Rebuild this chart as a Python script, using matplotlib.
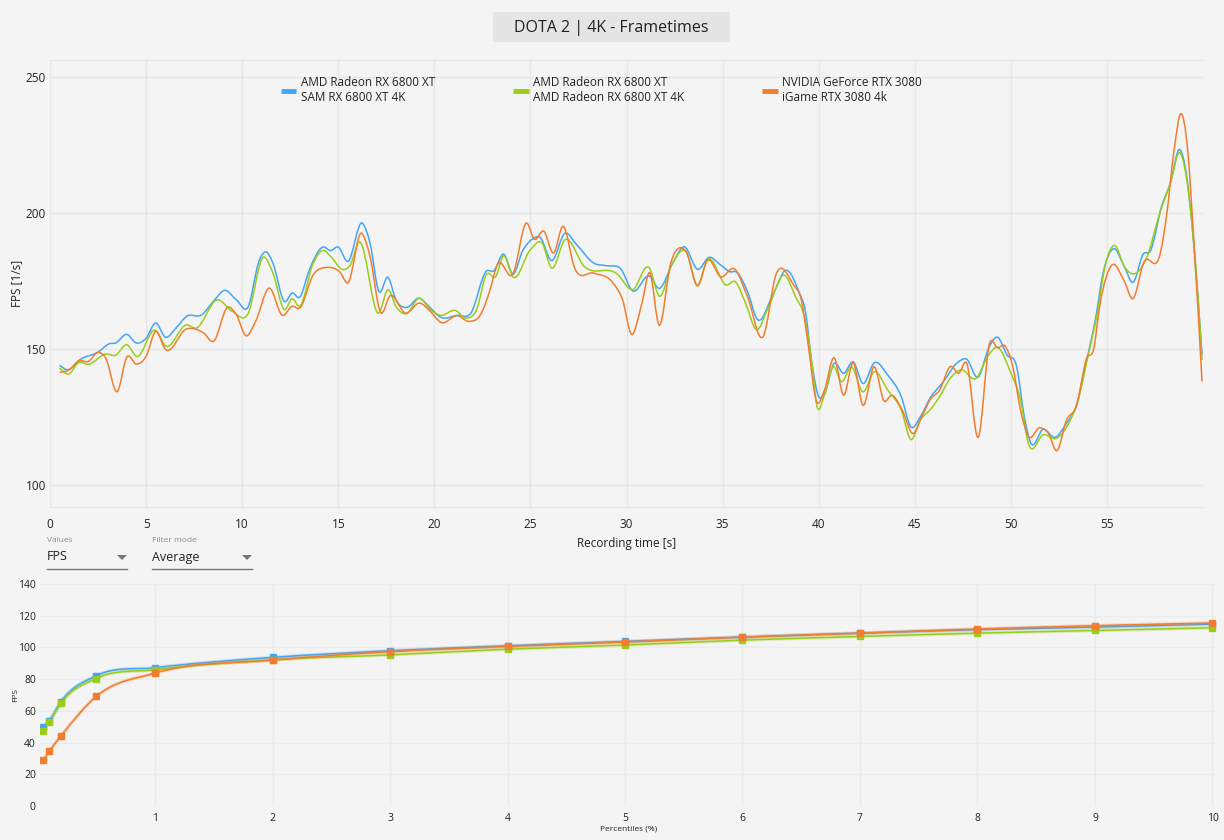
import matplotlib
matplotlib.use('Agg')
import matplotlib.pyplot as plt
import numpy as np
from matplotlib.path import Path
from matplotlib.patches import PathPatch, Rectangle, Polygon
from matplotlib.lines import Line2D

plt.rcParams['font.family'] = ['Open Sans', 'DejaVu Sans']

W, H = 1224, 840
BG = '#f4f4f4'
GRID = '#e6e6e6'
BLUE = '#42a5f5'
GREEN = '#9acd1a'
ORANGE = '#f27d2e'

labels = ['AMD Radeon RX 6800 XT\nSAM RX 6800 XT 4K',
          'AMD Radeon RX 6800 XT\nAMD Radeon RX 6800 XT 4K',
          'NVIDIA GeForce RTX 3080\niGame RTX 3080 4k']

# frametime curves (time [s], fps)
t_sam = [0.5, 0.9, 1.6, 2.5, 3.1, 3.4, 4.0, 4.5, 5.0, 5.5, 6.0, 6.6, 7.1, 7.9, 8.5, 9.1, 9.7,
         10.3, 10.9, 11.25, 11.6, 12.2, 12.6, 13.0, 13.5, 14.2, 14.6, 15.0, 15.5, 16.25, 16.65,
         17.1, 17.6, 18.0, 18.55, 19.2, 19.8, 20.3, 21.2, 21.9, 22.7, 23.1, 23.6, 24.1, 24.6,
         25.1, 25.5, 26.1, 26.8, 27.4, 28.3, 29.0, 29.7, 30.3, 31.2, 31.7, 32.4, 33.0, 33.7,
         34.3, 34.9, 35.4, 35.7, 36.3, 36.8, 37.65, 38.3, 39.0, 39.3, 39.65, 40.0, 40.3, 40.8,
         41.3, 41.8, 42.3, 42.9, 43.6, 44.3, 44.8, 45.3, 45.8, 46.5, 47.2, 47.7, 48.3, 48.85,
         49.3, 49.8, 50.3, 50.7, 51.0, 51.7, 52.3, 52.9, 53.4, 53.95, 54.4, 54.8, 55.35, 55.9,
         56.35, 56.9, 57.25, 57.85, 58.3, 58.8, 59.15, 59.5, 59.95]
fps_sam = [144.0, 142.4, 146.3, 148.9, 152.0, 152.2, 155.4, 152.2, 154.0, 159.6, 154.4, 158.1,
           162.0, 162.6, 167.5, 171.6, 168.1, 165.4, 182.8, 185.7, 181.6, 167.5, 170.6, 169.1,
           179.2, 187.5, 186.2, 187.5, 182.2, 196.3, 189.0, 171.4, 176.3, 168.1, 165.3, 168.7,
           165.1, 161.8, 162.4, 163.2, 178.6, 178.8, 184.9, 177.6, 186.2, 190.4, 191.1, 182.5,
           192.6, 188.4, 181.6, 180.6, 179.5, 171.5, 176.8, 172.3, 181.5, 187.6, 179.3, 183.7,
           180.9, 178.4, 178.4, 171.1, 161.0, 170.5, 179.0, 170.5, 164.3, 144.7, 132.5, 133.7,
           144.7, 141.1, 145.3, 137.4, 145.0, 140.4, 132.5, 121.4, 125.2, 132.0, 138.1, 144.9,
           146.3, 139.7, 150.4, 154.4, 147.9, 143.6, 125.2, 116.1, 120.6, 117.6, 122.8, 128.9,
           146.1, 160.8, 177.9, 186.9, 180.4, 174.5, 185.0, 185.9, 202.5, 211.0, 223.3, 213.5,
           190.2, 148.0]

t_amd = [0.5, 0.96, 1.5, 2.0, 2.9, 3.4, 4.0, 4.5, 5.5, 6.0, 7.1, 7.6, 8.7, 9.5, 10.3, 11.1,
         11.6, 12.2, 12.6, 13.0, 13.7, 14.2, 14.6, 15.25, 15.6, 16.1, 17.1, 17.6, 18.0, 18.55,
         19.2, 19.8, 20.3, 21.1, 21.65, 22.2, 22.7, 23.2, 23.6, 24.1, 25.0, 25.6, 26.1, 26.8,
         27.8, 29.5, 30.3, 31.2, 31.7, 32.4, 33.1, 33.7, 34.2, 35.2, 35.65, 36.2, 36.75, 37.4,
         38.2, 38.8, 39.3, 39.65, 39.9, 40.3, 40.75, 41.2, 41.7, 42.3, 42.9, 43.6, 44.3, 44.8,
         45.3, 45.8, 46.3, 46.85, 47.4, 48.2, 48.8, 49.3, 50.0, 50.5, 50.9, 51.7, 52.4, 53.1,
         53.5, 54.05, 54.5, 54.9, 55.4, 55.9, 56.3, 57.1, 57.7, 58.3, 58.8, 59.25, 59.7, 59.95]
fps_amd = [143.0, 140.8, 145.1, 144.4, 148.2, 147.7, 151.6, 147.3, 156.9, 151.3, 158.9, 157.7,
           168.1, 163.8, 162.9, 183.8, 177.9, 164.5, 168.5, 165.7, 181.6, 186.3, 184.1, 179.2,
           180.6, 189.3, 163.2, 171.8, 165.7, 163.0, 168.7, 164.5, 162.4, 164.2, 161.4, 164.5,
           177.3, 176.7, 184.3, 176.5, 186.5, 189.0, 179.8, 190.2, 180.4, 177.7, 171.8, 179.7,
           169.5, 181.7, 185.8, 173.5, 182.7, 173.5, 174.8, 166.8, 157.2, 165.6, 177.2, 169.2,
           160.7, 144.7, 129.4, 133.1, 143.5, 138.0, 143.5, 134.3, 141.7, 134.9, 127.6, 116.8,
           124.1, 127.7, 132.6, 139.3, 142.4, 139.3, 147.3, 150.7, 141.2, 131.4, 115.7, 118.6,
           117.3, 124.0, 131.4, 148.5, 163.2, 180.4, 188.1, 180.4, 177.7, 184.1, 198.8, 211.0,
           222.1, 207.4, 173.0, 146.0]

t_nv = [0.5, 1.0, 1.5, 2.0, 2.5, 2.9, 3.5, 4.0, 4.5, 5.0, 5.5, 6.0, 7.1, 8.0, 8.5, 9.25, 9.7,
        10.2, 10.7, 11.4, 12.1, 12.6, 13.0, 13.7, 14.4, 15.1, 15.5, 16.2, 16.65, 17.2, 17.7,
        18.5, 19.25, 19.8, 20.35, 21.2, 21.8, 22.4, 22.9, 23.25, 24.1, 24.8, 25.2, 25.7, 26.2,
        26.7, 27.3, 28.3, 29.3, 29.8, 30.25, 30.8, 31.2, 31.7, 32.3, 33.1, 33.7, 34.2, 34.9,
        35.65, 36.3, 37.1, 37.8, 38.7, 39.1, 39.4, 39.9, 40.3, 40.8, 41.3, 41.8, 42.3, 42.9,
        43.4, 43.8, 44.35, 44.9, 45.4, 45.8, 46.3, 46.85, 47.3, 47.7, 48.3, 48.9, 49.3, 49.7,
        50.1, 50.5, 50.9, 51.5, 51.95, 52.4, 52.9, 53.4, 53.95, 54.3, 54.65, 55.25, 55.9, 56.35,
        56.9, 57.8, 58.1, 58.5, 58.85, 59.2, 59.5, 59.95]
fps_nv = [141.4, 142.4, 145.7, 145.5, 148.8, 146.7, 134.4, 147.1, 144.5, 147.3, 156.5, 150.0,
          157.4, 155.9, 152.8, 165.4, 162.6, 154.9, 160.2, 172.4, 162.4, 165.7, 165.1, 177.3,
          180.0, 178.2, 174.3, 192.6, 184.1, 163.5, 169.6, 163.2, 166.9, 163.8, 159.8, 162.3,
          160.2, 162.6, 171.8, 180.6, 177.7, 196.3, 190.4, 193.3, 185.3, 195.1, 179.8, 177.9,
          174.3, 168.0, 155.5, 166.8, 178.1, 158.8, 181.5, 185.8, 173.2, 182.5, 176.6, 179.3,
          169.2, 154.5, 177.8, 173.5, 168.0, 154.5, 130.6, 134.9, 146.8, 133.1, 145.0, 129.4,
          143.5, 131.0, 133.1, 127.6, 119.0, 125.7, 131.4, 135.0, 143.6, 141.2, 144.9, 117.6,
          152.3, 150.5, 151.1, 143.6, 127.7, 118.1, 121.1, 119.1, 112.7, 124.0, 128.9, 146.7,
          149.8, 166.9, 180.8, 175.0, 168.5, 181.6, 185.9, 198.8, 223.3, 236.5, 223.3, 192.6,
          138.1]

# percentile panel
pct = [0.05, 0.1, 0.2, 0.5, 1, 2, 3, 4, 5, 6, 7, 8, 9, 10]
pct_sam = [50.1, 53.9, 65.9, 82.1, 87.2, 93.7, 97.9, 101.0, 103.8, 106.5, 109.0, 111.2, 112.8, 114.7]
pct_amd = [47.4, 52.8, 64.8, 80.4, 85.9, 92.2, 95.3, 98.9, 101.5, 104.6, 106.9, 109.0, 110.7, 112.4]
pct_nv = [28.8, 34.5, 44.2, 69.1, 83.8, 92.0, 97.3, 100.6, 103.4, 106.5, 109.0, 111.6, 113.7, 115.4]


def smooth_path(x, y):
    # cubic bezier through the read points, drawn by matplotlib
    x = np.asarray(x, float)
    y = np.asarray(y, float)
    m = np.gradient(y, x)
    verts = [(x[0], y[0])]
    codes = [Path.MOVETO]
    for i in range(len(x) - 1):
        h = x[i + 1] - x[i]
        verts += [(x[i] + h / 3, y[i] + m[i] * h / 3),
                  (x[i + 1] - h / 3, y[i + 1] - m[i + 1] * h / 3),
                  (x[i + 1], y[i + 1])]
        codes += [Path.CURVE4] * 3
    return Path(verts, codes)


fig = plt.figure(figsize=(W / 100, H / 100), dpi=100, facecolor=BG)

# title box
fig.patches.append(Rectangle((493 / W, 1 - 42 / H), 237 / W, 30 / H,
                             transform=fig.transFigure, facecolor='#e5e5e5', edgecolor='none'))
fig.text(611 / W, 1 - 28 / H, 'DOTA 2 | 4K - Frametimes', fontsize=11.5, color='#222222',
         ha='center', va='center')

# frametime panel
ax = fig.add_axes([50 / W, 1 - 507 / H, 1153 / W, 447 / H], facecolor=BG)
for t, f, c in [(t_sam, fps_sam, BLUE), (t_amd, fps_amd, GREEN), (t_nv, fps_nv, ORANGE)]:
    ax.add_patch(PathPatch(smooth_path(t, f), fill=False, edgecolor=c, lw=1.1))
ax.set_xlim(0, 60)
ax.set_ylim(92, 256.2)
ax.set_xticks(np.arange(0, 61, 5))
ax.set_xticklabels([str(v) for v in range(0, 56, 5)] + [''])
ax.set_yticks([100, 150, 200, 250])
ax.grid(True, color=GRID, lw=1)
ax.set_axisbelow(True)
ax.tick_params(length=0, labelsize=8.5, colors='#222222')
ax.tick_params(axis='x', pad=8)
ax.tick_params(axis='y', pad=3)
for s in ['left', 'right']:
    ax.spines[s].set_visible(False)
for s in ['top', 'bottom']:
    ax.spines[s].set_color(GRID)
ax.set_xlabel('Recording time [s]', fontsize=8.5, color='#222222')
ax.xaxis.set_label_coords(0.5, -(537 - 507) / 447)
ax.set_ylabel('FPS [1/s]', fontsize=8.5, color='#222222')
ax.yaxis.set_label_coords(-(50 - 23) / 1153, 0.5)

handles = [Line2D([], [], color=c, lw=3.5, solid_capstyle='butt') for c in [BLUE, GREEN, ORANGE]]
leg = ax.legend(handles, labels, ncol=3, loc='upper left', frameon=False, fontsize=8.5,
                bbox_to_anchor=(281 / W, 1 - 76 / H), bbox_transform=fig.transFigure,
                borderpad=0, borderaxespad=0, handlelength=1.3, handletextpad=0.4,
                columnspacing=6.6)
for txt in leg.get_texts():
    txt.set_color('#222222')

# dropdown widgets
for x0, x1, cap, val in [(47, 127, 'Values', 'FPS'), (152, 252, 'Filter mode', 'Average')]:
    fig.text(x0 / W, 1 - 540 / H, cap, fontsize=6, color='#8a8a8a', va='center')
    fig.text(x0 / W, 1 - 557 / H, val, fontsize=9, color='#222222', va='center')
    fig.lines.append(Line2D([x0 / W, x1 / W], [1 - 569 / H, 1 - 569 / H], color='#777777',
                            lw=1, transform=fig.transFigure))
    tx = x1 - 5
    fig.patches.append(Polygon([((tx - 5) / W, 1 - 555 / H), ((tx + 5) / W, 1 - 555 / H),
                                (tx / W, 1 - 560 / H)], closed=True, transform=fig.transFigure,
                               facecolor='#777777', edgecolor='none'))

# percentile panel
ax2 = fig.add_axes([40 / W, 1 - 806 / H, 1176 / W, 222 / H], facecolor=BG)
for p, c in [(pct_sam, BLUE), (pct_amd, GREEN), (pct_nv, ORANGE)]:
    ax2.add_patch(PathPatch(smooth_path(pct, p), fill=False, edgecolor=c, lw=2.6, alpha=0.25))
    ax2.add_patch(PathPatch(smooth_path(pct, p), fill=False, edgecolor=c, lw=1.1))
    ax2.plot(pct, p, linestyle='none', marker='s', markersize=4.5, color=c)
ax2.set_xlim(0.021, 10.03)
ax2.set_ylim(0, 140)
ax2.set_xticks(range(1, 11))
ax2.set_yticks(range(0, 141, 20))
ax2.grid(True, color='#ebebeb', lw=1)
ax2.set_axisbelow(True)
for s in ax2.spines.values():
    s.set_visible(False)
ax2.tick_params(length=0, labelsize=7.5, colors='#222222')
ax2.tick_params(axis='x', pad=5)
ax2.tick_params(axis='y', pad=3)
ax2.set_xlabel('Percentiles (%)', fontsize=6, color='#222222')
ax2.xaxis.set_label_coords(589 / 1176, -(825 - 806) / 222)
ax2.set_ylabel('FPS', fontsize=6, color='#222222')
ax2.yaxis.set_label_coords(-(40 - 19) / 1176, 0.5)

fig.savefig('out.png', dpi=100, facecolor=BG)
